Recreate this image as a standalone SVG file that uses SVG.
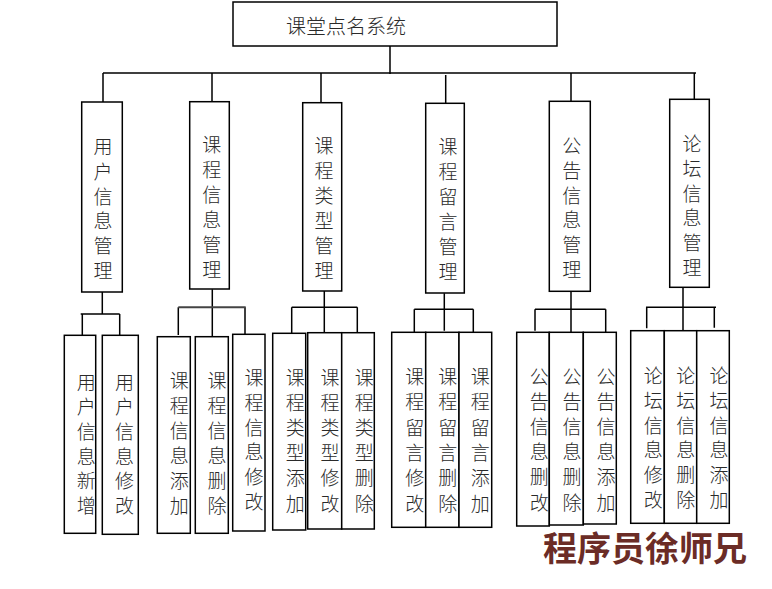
<svg xmlns="http://www.w3.org/2000/svg" width="772" height="589" viewBox="0 0 772 589">
<style>
.box{fill:#fff;stroke:#000;stroke-width:1.5}
.ln{fill:none;stroke:#000;stroke-width:1.5}
.t{font-family:"Noto Sans CJK SC","Noto Sans",sans-serif;font-size:19px;font-weight:300;fill:#2a2a2a;text-anchor:middle}
.title{font-family:"Noto Sans CJK SC","Noto Sans",sans-serif;font-size:20px;font-weight:300;fill:#2a2a2a}
.wm{font-family:"Noto Sans CJK SC",sans-serif;font-size:34px;font-weight:bold;fill:#6b2c26}
</style>
<rect width="772" height="589" fill="#fff"/>
<g id="connectors">
<path class="ln" d="M390,46V74M103,73H696M103,73V102M212,73V101.7M321,73V102.7M445.7,75V103.3M571,73V101.3M694.3,73V99.3"/>
<path class="ln" d="M102.3,292V314M80.7,314H119.7M82.3,314V335.3M119.7,314V336"/>
<path class="ln" d="M212.3,289.3V336.7M178.3,307.3V335M245,307.3V334.3"/>
<path d="M178.3,307.3H245.7" fill="none" stroke="#444" stroke-width="2"/>
<path class="ln" d="M324.3,291V332.7M291.7,307.3H357.3M291.7,307.3V333.3M357.3,307.3V332.7"/>
<path class="ln" d="M444.3,293.3V330.7M414.3,309.3H473.3M414.3,309.3V332.3M473.3,309.3V332.3"/>
<path class="ln" d="M571,291V332.3M535,309.3H605.7M535,309.3V330.7M605.7,309.3V332.3"/>
<path class="ln" d="M683,287.3V330.7M646,307.3H716M646.7,307.3V328.3M714.3,307.3V327.7"/>
</g>
<g id="root"><rect class="box" x="233" y="2" width="324" height="44"/><text class="title" x="286" y="34">课堂点名系统</text></g>
<g id="m1"><rect class="box" x="81.7" y="102" width="40.6" height="190"/><text class="t" y="154"><tspan x="103">用</tspan><tspan x="103" dy="24.8">户</tspan><tspan x="103" dy="24.8">信</tspan><tspan x="103" dy="24.8">息</tspan><tspan x="103" dy="24.8">管</tspan><tspan x="103" dy="24.8">理</tspan></text></g>
<g id="m2"><rect class="box" x="189.7" y="101.7" width="39.6" height="187.3"/><text class="t" y="152"><tspan x="211.7">课</tspan><tspan x="211.7" dy="25">程</tspan><tspan x="211.7" dy="25">信</tspan><tspan x="211.7" dy="25">息</tspan><tspan x="211.7" dy="25">管</tspan><tspan x="211.7" dy="25">理</tspan></text></g>
<g id="m3"><rect class="box" x="302.7" y="102.7" width="39" height="188.3"/><text class="t" y="153"><tspan x="324">课</tspan><tspan x="324" dy="25">程</tspan><tspan x="324" dy="25">类</tspan><tspan x="324" dy="25">型</tspan><tspan x="324" dy="25">管</tspan><tspan x="324" dy="25">理</tspan></text></g>
<g id="m4"><rect class="box" x="425.7" y="103.3" width="38.6" height="189.7"/><text class="t" y="153.7"><tspan x="448">课</tspan><tspan x="448" dy="25.1">程</tspan><tspan x="448" dy="25.1">留</tspan><tspan x="448" dy="25.1">言</tspan><tspan x="448" dy="25.1">管</tspan><tspan x="448" dy="25.1">理</tspan></text></g>
<g id="m5"><rect class="box" x="549.3" y="101.3" width="41" height="190"/><text class="t" y="153"><tspan x="571.7">公</tspan><tspan x="571.7" dy="24.8">告</tspan><tspan x="571.7" dy="24.8">信</tspan><tspan x="571.7" dy="24.8">息</tspan><tspan x="571.7" dy="24.8">管</tspan><tspan x="571.7" dy="24.8">理</tspan></text></g>
<g id="m6"><rect class="box" x="669.7" y="99.3" width="39.6" height="188"/><text class="t" y="151"><tspan x="692">论</tspan><tspan x="692" dy="24.8">坛</tspan><tspan x="692" dy="24.8">信</tspan><tspan x="692" dy="24.8">息</tspan><tspan x="692" dy="24.8">管</tspan><tspan x="692" dy="24.8">理</tspan></text></g>
<g id="u1"><rect class="box" x="64.3" y="335.3" width="31.4" height="198"/><text class="t" y="389.5"><tspan x="86.3">用</tspan><tspan x="86.3" dy="24.7">户</tspan><tspan x="86.3" dy="24.7">信</tspan><tspan x="86.3" dy="24.7">息</tspan><tspan x="86.3" dy="24.7">新</tspan><tspan x="86.3" dy="24.7">增</tspan></text></g>
<g id="u2"><rect class="box" x="102.3" y="335.3" width="36" height="199"/><text class="t" y="389.5"><tspan x="124.5">用</tspan><tspan x="124.5" dy="24.7">户</tspan><tspan x="124.5" dy="24.7">信</tspan><tspan x="124.5" dy="24.7">息</tspan><tspan x="124.5" dy="24.7">修</tspan><tspan x="124.5" dy="24.7">改</tspan></text></g>
<g id="c1"><rect class="box" x="157.3" y="336.7" width="33" height="196.6"/><text class="t" y="388"><tspan x="179.3">课</tspan><tspan x="179.3" dy="24.9">程</tspan><tspan x="179.3" dy="24.9">信</tspan><tspan x="179.3" dy="24.9">息</tspan><tspan x="179.3" dy="24.9">添</tspan><tspan x="179.3" dy="24.9">加</tspan></text></g>
<g id="c2"><rect class="box" x="195.3" y="336.7" width="33" height="196.6"/><text class="t" y="388"><tspan x="217">课</tspan><tspan x="217" dy="24.9">程</tspan><tspan x="217" dy="24.9">信</tspan><tspan x="217" dy="24.9">息</tspan><tspan x="217" dy="24.9">删</tspan><tspan x="217" dy="24.9">除</tspan></text></g>
<g id="c3"><rect class="box" x="232.7" y="334.3" width="32.3" height="196.7"/><text class="t" y="385"><tspan x="254">课</tspan><tspan x="254" dy="24.8">程</tspan><tspan x="254" dy="24.8">信</tspan><tspan x="254" dy="24.8">息</tspan><tspan x="254" dy="24.8">修</tspan><tspan x="254" dy="24.8">改</tspan></text></g>
<g id="t1"><rect class="box" x="272.7" y="333.3" width="33" height="196.7"/><text class="t" y="384.5"><tspan x="295.3">课</tspan><tspan x="295.3" dy="25.2">程</tspan><tspan x="295.3" dy="25.2">类</tspan><tspan x="295.3" dy="25.2">型</tspan><tspan x="295.3" dy="25.2">添</tspan><tspan x="295.3" dy="25.2">加</tspan></text></g>
<g id="t2"><rect class="box" x="307.7" y="332.7" width="34" height="196.3"/><text class="t" y="384.5"><tspan x="330">课</tspan><tspan x="330" dy="25.2">程</tspan><tspan x="330" dy="25.2">类</tspan><tspan x="330" dy="25.2">型</tspan><tspan x="330" dy="25.2">修</tspan><tspan x="330" dy="25.2">改</tspan></text></g>
<g id="t3"><rect class="box" x="341.7" y="332.7" width="32.6" height="196.3"/><text class="t" y="384.5"><tspan x="364.3">课</tspan><tspan x="364.3" dy="25.2">程</tspan><tspan x="364.3" dy="25.2">类</tspan><tspan x="364.3" dy="25.2">型</tspan><tspan x="364.3" dy="25.2">删</tspan><tspan x="364.3" dy="25.2">除</tspan></text></g>
<g id="g1"><rect class="box" x="391.7" y="332.3" width="34" height="195"/><text class="t" y="384"><tspan x="414.7">课</tspan><tspan x="414.7" dy="25.3">程</tspan><tspan x="414.7" dy="25.3">留</tspan><tspan x="414.7" dy="25.3">言</tspan><tspan x="414.7" dy="25.3">修</tspan><tspan x="414.7" dy="25.3">改</tspan></text></g>
<g id="g2"><rect class="box" x="425.7" y="332.3" width="33.3" height="195"/><text class="t" y="384"><tspan x="447.7">课</tspan><tspan x="447.7" dy="25.3">程</tspan><tspan x="447.7" dy="25.3">留</tspan><tspan x="447.7" dy="25.3">言</tspan><tspan x="447.7" dy="25.3">删</tspan><tspan x="447.7" dy="25.3">除</tspan></text></g>
<g id="g3"><rect class="box" x="459" y="332.3" width="32.7" height="195"/><text class="t" y="384"><tspan x="480.3">课</tspan><tspan x="480.3" dy="25.3">程</tspan><tspan x="480.3" dy="25.3">留</tspan><tspan x="480.3" dy="25.3">言</tspan><tspan x="480.3" dy="25.3">添</tspan><tspan x="480.3" dy="25.3">加</tspan></text></g>
<g id="n1"><rect class="box" x="516.7" y="332.3" width="32.6" height="193.7"/><text class="t" y="384"><tspan x="539.3">公</tspan><tspan x="539.3" dy="25.1">告</tspan><tspan x="539.3" dy="25.1">信</tspan><tspan x="539.3" dy="25.1">息</tspan><tspan x="539.3" dy="25.1">删</tspan><tspan x="539.3" dy="25.1">改</tspan></text></g>
<g id="n2"><rect class="box" x="549.3" y="332.3" width="34" height="192.7"/><text class="t" y="384"><tspan x="572">公</tspan><tspan x="572" dy="25.1">告</tspan><tspan x="572" dy="25.1">信</tspan><tspan x="572" dy="25.1">息</tspan><tspan x="572" dy="25.1">删</tspan><tspan x="572" dy="25.1">除</tspan></text></g>
<g id="n3"><rect class="box" x="583.3" y="332.3" width="33" height="191.7"/><text class="t" y="384"><tspan x="606">公</tspan><tspan x="606" dy="25.1">告</tspan><tspan x="606" dy="25.1">信</tspan><tspan x="606" dy="25.1">息</tspan><tspan x="606" dy="25.1">添</tspan><tspan x="606" dy="25.1">加</tspan></text></g>
<g id="f1"><rect class="box" x="630.7" y="330.7" width="33.6" height="192.6"/><text class="t" y="382.7"><tspan x="653.3">论</tspan><tspan x="653.3" dy="24.9">坛</tspan><tspan x="653.3" dy="24.9">信</tspan><tspan x="653.3" dy="24.9">息</tspan><tspan x="653.3" dy="24.9">修</tspan><tspan x="653.3" dy="24.9">改</tspan></text></g>
<g id="f2"><rect class="box" x="664.3" y="330.7" width="32.4" height="192.6"/><text class="t" y="382.7"><tspan x="685.7">论</tspan><tspan x="685.7" dy="24.9">坛</tspan><tspan x="685.7" dy="24.9">信</tspan><tspan x="685.7" dy="24.9">息</tspan><tspan x="685.7" dy="24.9">删</tspan><tspan x="685.7" dy="24.9">除</tspan></text></g>
<g id="f3"><rect class="box" x="696.7" y="330.7" width="32.6" height="192.6"/><text class="t" y="382.7"><tspan x="719">论</tspan><tspan x="719" dy="24.9">坛</tspan><tspan x="719" dy="24.9">信</tspan><tspan x="719" dy="24.9">息</tspan><tspan x="719" dy="24.9">添</tspan><tspan x="719" dy="24.9">加</tspan></text></g>
<text class="wm" x="543" y="561">程序员徐师兄</text>
</svg>
